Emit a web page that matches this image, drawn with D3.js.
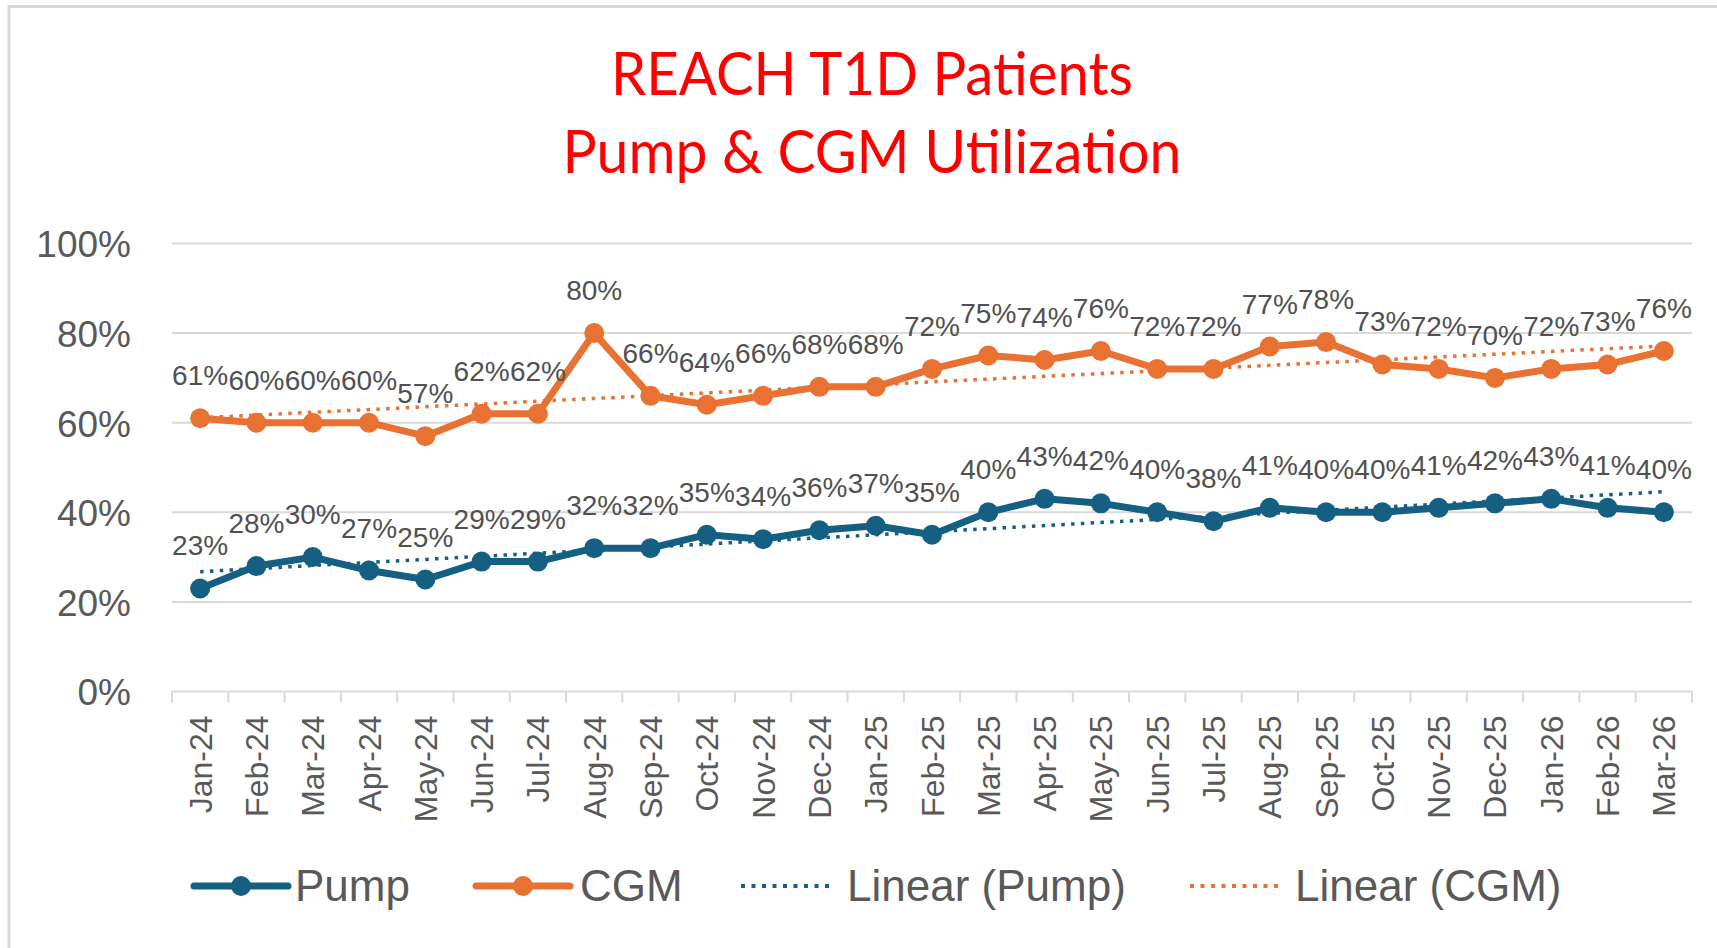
<!DOCTYPE html>
<html>
<head>
<meta charset="utf-8">
<script src="https://cdn.jsdelivr.net/npm/d3@7"></script>
<style>
  html, body { margin: 0; padding: 0; background: #fff; }
  svg { display: block; }
  text { font-family: "Liberation Sans", Arial, sans-serif; }
</style>
</head>
<body>
<svg id="chart" width="1717" height="948"></svg>
<script>
// ---- Data ----
const categories = ["Jan-24","Feb-24","Mar-24","Apr-24","May-24","Jun-24","Jul-24","Aug-24","Sep-24","Oct-24","Nov-24","Dec-24",
                    "Jan-25","Feb-25","Mar-25","Apr-25","May-25","Jun-25","Jul-25","Aug-25","Sep-25","Oct-25","Nov-25","Dec-25",
                    "Jan-26","Feb-26","Mar-26"];
const pumpValues = [23,28,30,27,25,29,29,32,32,35,34,36,37,35,40,43,42,40,38,41,40,40,41,42,43,41,40];
const cgmValues  = [61,60,60,60,57,62,62,80,66,64,66,68,68,72,75,74,76,72,72,77,78,73,72,70,72,73,76];
const yTickValues = [0,20,40,60,80,100];
const titleLines = ["REACH T1D Patients","Pump & CGM Utilization"];
const seriesNames = ["Pump","CGM"];
const trendNames = ["Linear (Pump)","Linear (CGM)"];

// ---- Styles / layout ----
const colPump = "#156082", colCGM = "#E97132";
const gridCol = "#d9d9d9", textCol = "#595959", labelCol = "#505050";
const plot = {left: 172, right: 1692, top: 243.5, bottom: 691.5};

const svg = d3.select("#chart");

// chart border (left & top visible)
svg.append("line").attr("x1",9).attr("x2",1717).attr("y1",6.5).attr("y2",6.5).attr("stroke",gridCol).attr("stroke-width",3);
svg.append("line").attr("x1",9).attr("x2",9).attr("y1",5).attr("y2",948).attr("stroke",gridCol).attr("stroke-width",3);

const x = d3.scaleBand().domain(categories).range([plot.left, plot.right]).padding(0);
const cx = c => x(c) + x.bandwidth()/2;
const y = d3.scaleLinear().domain([0,100]).range([plot.bottom, plot.top]);

// title
const titleTargets = [522, 619];
const titleBaselines = [95, 173];
titleLines.forEach((t,i) => {
  svg.append("text")
    .attr("x", 872).attr("y", titleBaselines[i])
    .attr("text-anchor","middle")
    .style("font-family","Lato, 'Open Sans', sans-serif")
    .style("font-size","60px").attr("fill","#FF0000").text(t)
    .attr("textLength", titleTargets[i]).attr("lengthAdjust","spacingAndGlyphs");
});

// gridlines
svg.append("g").selectAll("line").data(yTickValues.filter(v=>v>0)).join("line")
  .attr("x1",plot.left).attr("x2",plot.right)
  .attr("y1",d=>y(d)).attr("y2",d=>y(d))
  .attr("stroke",gridCol).attr("stroke-width",2);

// y-axis labels
const yAxis = d3.axisLeft(y).tickValues(yTickValues).tickFormat(d=>d+"%").tickSize(0).tickPadding(0);
const yg = svg.append("g").attr("transform",`translate(${plot.left-41},0)`).call(yAxis);
yg.select(".domain").remove();
yg.selectAll("text").attr("fill",textCol).style("font-size","37px")
  .style("font-family","'Liberation Sans', Arial, sans-serif").attr("dy","0.36em");

// x axis line & ticks
svg.append("line").attr("x1",plot.left).attr("x2",plot.right)
  .attr("y1",plot.bottom).attr("y2",plot.bottom).attr("stroke",gridCol).attr("stroke-width",2);
const bounds = categories.map(c=>x(c)).concat([plot.right]);
svg.append("g").selectAll("line").data(bounds).join("line")
  .attr("x1",d=>d).attr("x2",d=>d).attr("y1",plot.bottom).attr("y2",plot.bottom+11)
  .attr("stroke",gridCol).attr("stroke-width",2);
svg.append("g").selectAll("text").data(categories).join("text")
  .attr("transform",d=>`translate(${cx(d)},${plot.bottom+24}) rotate(-90)`)
  .attr("text-anchor","end").attr("dy","0.36em")
  .attr("fill",textCol).style("font-size","32px").text(d=>d);

// series
const line = d3.line().x(d=>cx(d.c)).y(d=>y(d.v));
const series = [
  {name:"Pump", values: pumpValues, color: colPump},
  {name:"CGM", values: cgmValues, color: colCGM}
];
series.forEach(s => {
  const pts = categories.map((c,i)=>({c, v:s.values[i]}));
  svg.append("path").datum(pts).attr("d",line).attr("fill","none")
    .attr("stroke",s.color).attr("stroke-width",7).attr("stroke-linejoin","round");
  svg.append("g").selectAll("circle").data(pts).join("circle")
    .attr("cx",d=>cx(d.c)).attr("cy",d=>y(d.v)).attr("r",10).attr("fill",s.color);
});

// linear trendlines (least squares fit of each series)
function linFit(vals){
  const n = vals.length; const xs = d3.range(n);
  const mx = d3.mean(xs), my = d3.mean(vals);
  let sxy=0, sxx=0;
  xs.forEach((xi,i)=>{ sxy += (xi-mx)*(vals[i]-my); sxx += (xi-mx)*(xi-mx); });
  const b = sxy/sxx, a = my - b*mx;
  return [a, a + b*(n-1)];
}
series.forEach(s => {
  const [v0, v1] = linFit(s.values);
  const pts = [{c:categories[0], v:v0},{c:categories[categories.length-1], v:v1}];
  svg.append("path").datum(pts).attr("d",line).attr("fill","none")
    .attr("stroke",s.color).attr("stroke-width",3.5).attr("stroke-dasharray","3.5 6.3");
});

// data labels
series.forEach(s => {
  svg.append("g").selectAll("text").data(categories.map((c,i)=>({c,v:s.values[i]}))).join("text")
    .attr("x",d=>cx(d.c)).attr("y",d=>y(d.v)-33)
    .attr("text-anchor","middle").attr("fill",labelCol)
    .style("font-size","28px").text(d=>d.v+"%");
});

// legend
const legY = 886, legBase = 901;
const legItems = [
  {label: seriesNames[0], color: colPump, x0: 194, x1: 288, tx: 295, type: "line"},
  {label: seriesNames[1], color: colCGM, x0: 476, x1: 570, tx: 580, type: "line"},
  {label: trendNames[0], color: colPump, x0: 741, x1: 829, tx: 847, type: "dot"},
  {label: trendNames[1], color: colCGM, x0: 1190, x1: 1278, tx: 1295, type: "dot"}
];
const lg = svg.append("g");
legItems.forEach(it => {
  if (it.type === "line") {
    lg.append("line").attr("x1",it.x0).attr("x2",it.x1).attr("y1",legY).attr("y2",legY)
      .attr("stroke",it.color).attr("stroke-width",7).attr("stroke-linecap","round");
    lg.append("circle").attr("cx",(it.x0+it.x1)/2).attr("cy",legY).attr("r",10).attr("fill",it.color);
  } else {
    lg.append("line").attr("x1",it.x0).attr("x2",it.x1).attr("y1",legY).attr("y2",legY)
      .attr("stroke",it.color).attr("stroke-width",4).attr("stroke-dasharray","4 6.5");
  }
  lg.append("text").attr("x",it.tx).attr("y",legBase).attr("fill",textCol)
    .style("font-size","44px").text(it.label);
});
</script>
</body>
</html>
